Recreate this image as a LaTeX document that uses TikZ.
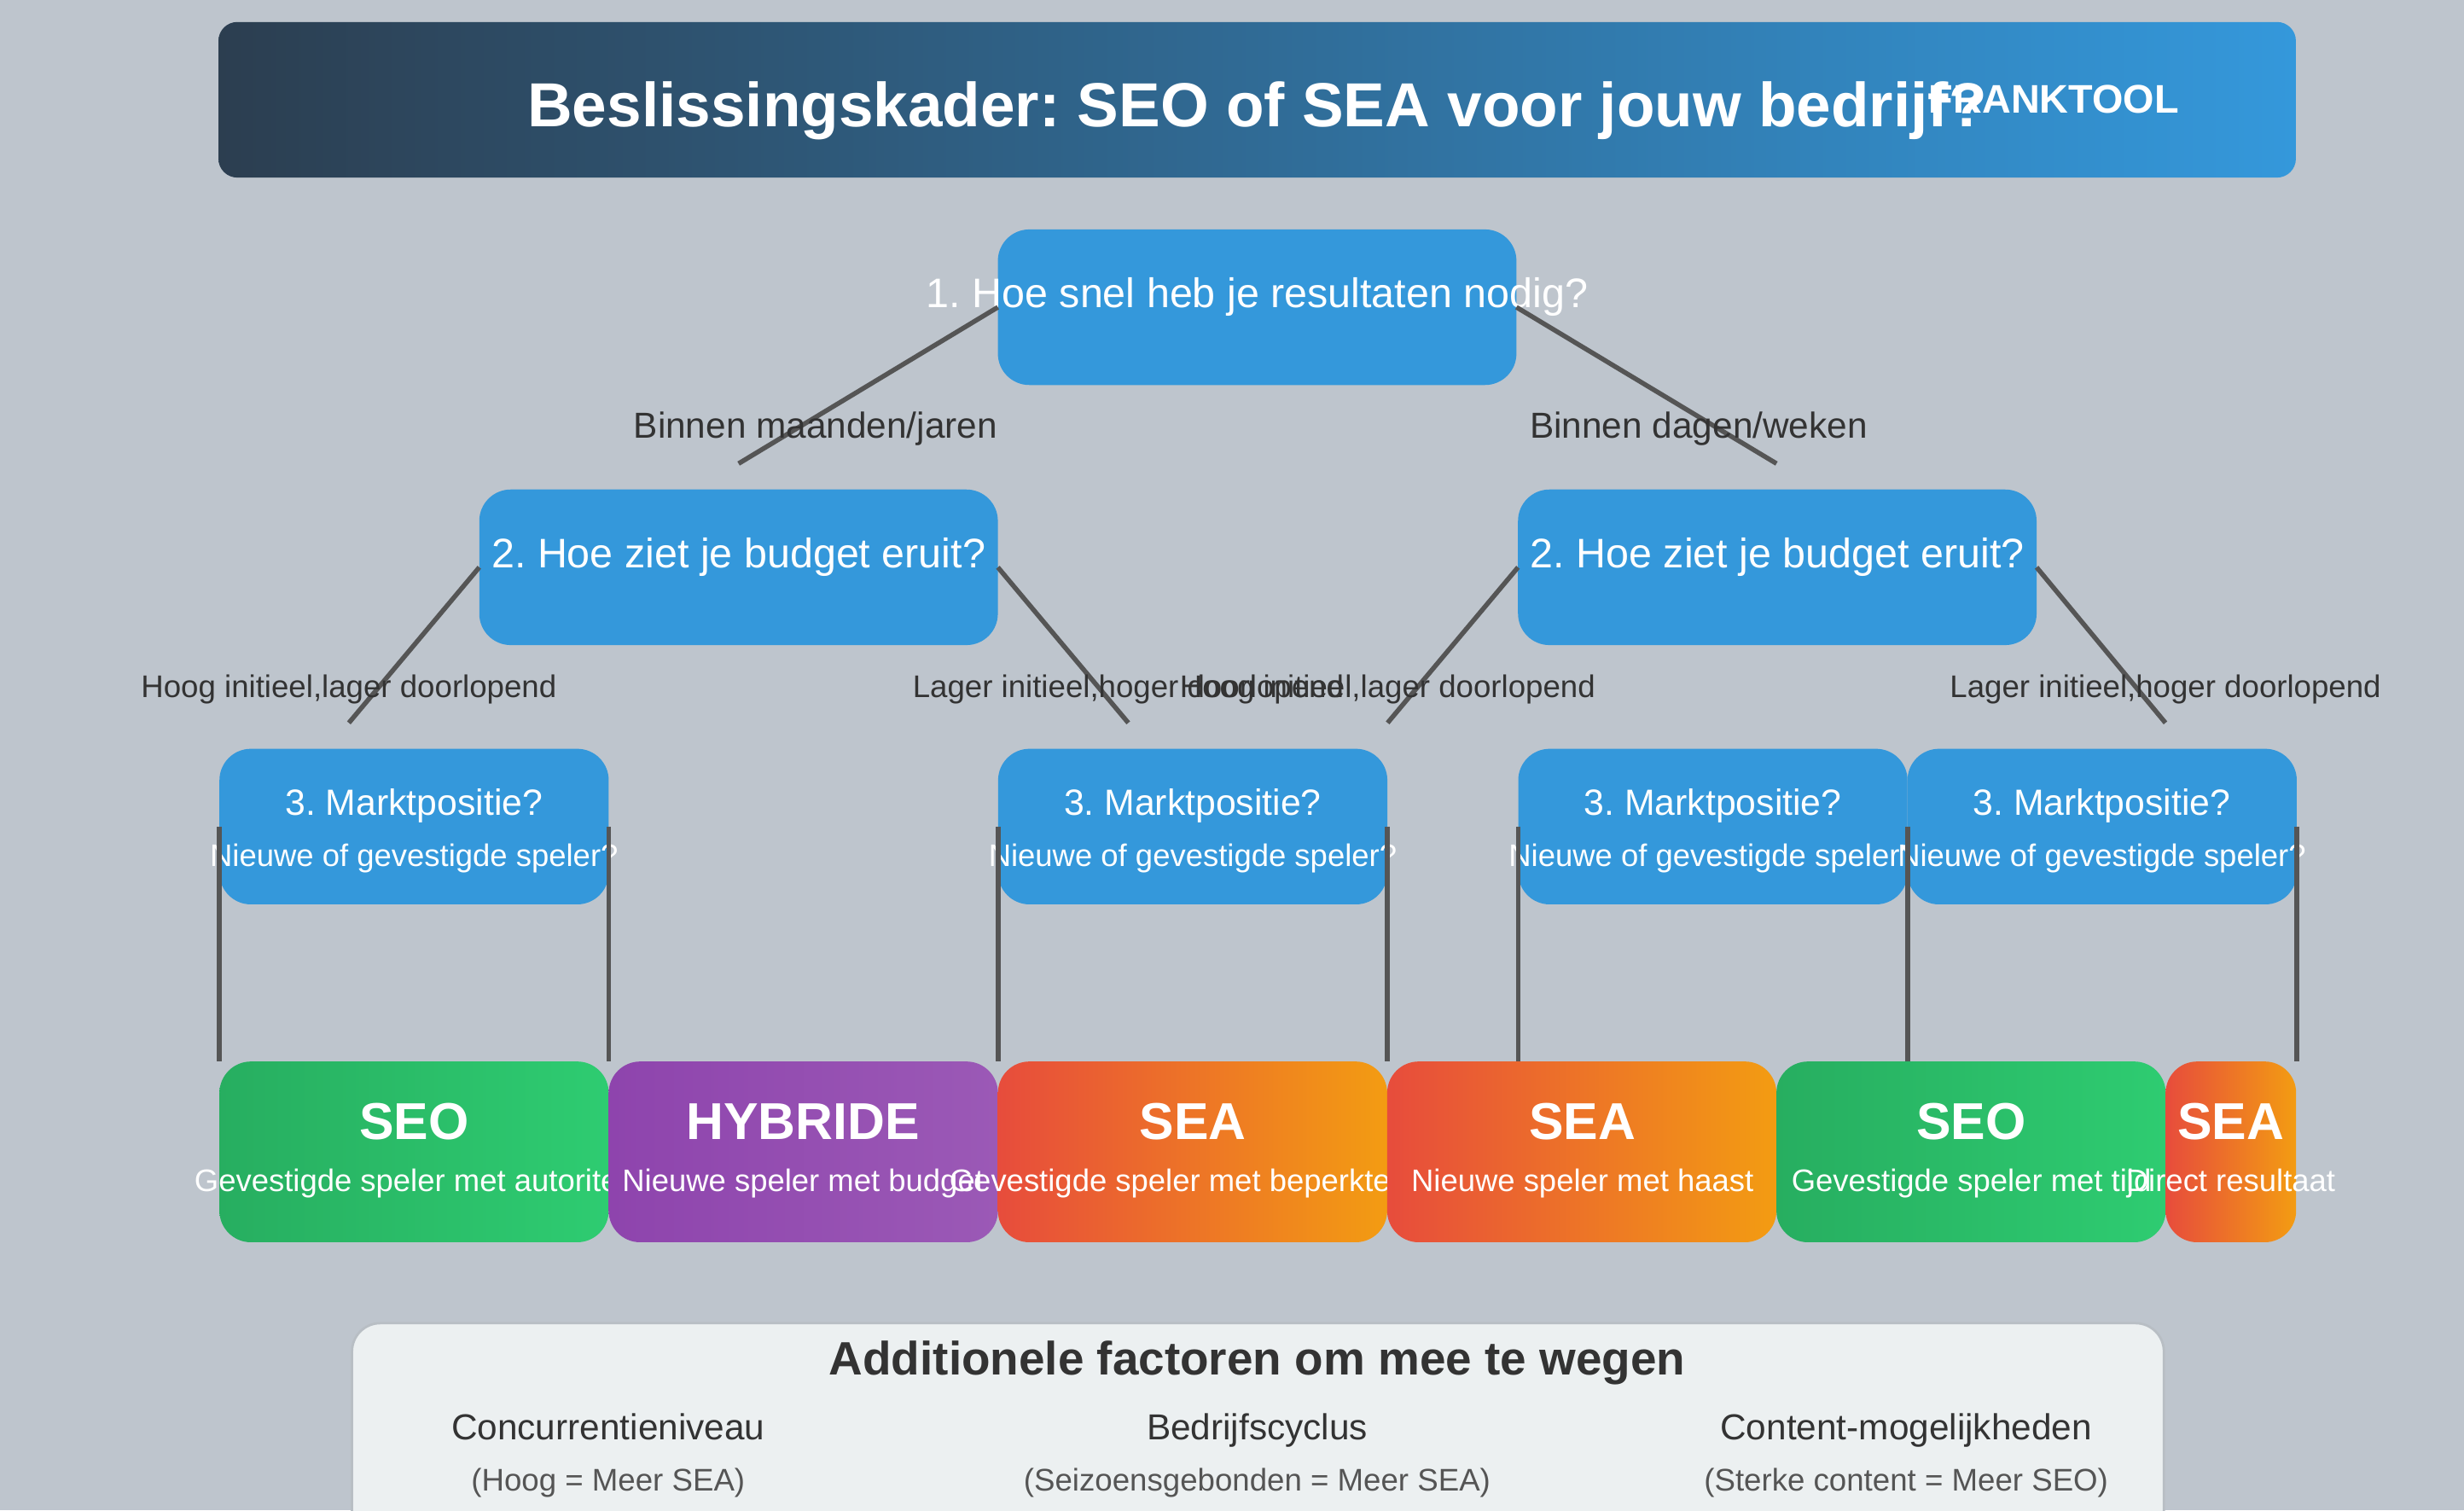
\documentclass[tikz,border=0pt]{standalone}
\usepackage{fontspec}
\setmainfont{Liberation Sans}
\usepackage{xcolor}
\usetikzlibrary{positioning}
\definecolor{bgc}{HTML}{BEC5CD}
\definecolor{navy}{HTML}{2C3E50}
\definecolor{qblue}{HTML}{3498DB}
\definecolor{seoa}{HTML}{27AE60}
\definecolor{seob}{HTML}{2ECC71}
\definecolor{hyba}{HTML}{8E44AD}
\definecolor{hybb}{HTML}{9B59B6}
\definecolor{seaa}{HTML}{E74C3C}
\definecolor{seab}{HTML}{F39C12}
\definecolor{panelc}{HTML}{ECF0F1}
\definecolor{edgec}{HTML}{B8BEC4}
\definecolor{linec}{HTML}{555555}
\definecolor{darkc}{HTML}{333333}
\newcommand{\fsz}[1]{\fontsize{#1}{#1}\selectfont}
\frenchspacing

\begin{document}
\begin{tikzpicture}[x=1pt,y=-1pt]
    \tikzstyle{blk}=[fill=qblue,rounded corners=20pt,outer sep=0pt,inner sep=0pt,minimum width=330pt,minimum height=99pt]
    \tikzstyle{qsm}=[blk,minimum width=247.7pt]
    \tikzstyle{res}=[rounded corners=20pt,outer sep=0pt,inner sep=0pt,minimum width=247.7pt,minimum height=115pt]
    \tikzstyle{seo}=[res,left color=seoa,right color=seob]
    \tikzstyle{hyb}=[res,left color=hyba,right color=hybb]
    \tikzstyle{sea}=[res,left color=seaa,right color=seab]
    \tikzstyle{txt}=[anchor=base,inner sep=0pt,text=white]
    \tikzstyle{qtxt}=[txt,font=\fsz{26.3}]
    \tikzstyle{mtxt}=[txt,font=\fsz{23.2}]
    \tikzstyle{stxt}=[txt,font=\fsz{19.8}]
    \tikzstyle{rtxt}=[txt,font=\fsz{33}\bfseries]
    \tikzstyle{lbl}=[anchor=base,inner sep=0pt,text=darkc,font=\fsz{23}]
    \tikzstyle{lblsm}=[lbl,font=\fsz{19.9}]
    \tikzstyle{lnk}=[draw=linec,line width=3pt]

    \clip[use as bounding box] (0,0) rectangle (1568,961);
    \fill[bgc] (0,0) rectangle (1568,961);

    % header
    \node[left color=navy,right color=qblue,rounded corners=12pt,outer sep=0pt,minimum width=1322pt,minimum height=99pt] (head) at (800,63.5) {};
    \node[txt,font=\fsz{39.6}\bfseries] (title) at (800,80.5) {Beslissingskader: SEO of SEA voor jouw bedrijf?};
    \node[txt,font=\fsz{25.4}\bfseries] (brand) at (1307,72) {FRANKTOOL};

    % question boxes
    \node[blk] (qa) at (800,195.5) {};
    \node[qtxt] (qatxt) at (800,195.5) {1. Hoe snel heb je resultaten nodig?};
    \node[blk] (qbl) at (470,361) {};
    \node[qtxt] (qbltxt) at (470,361.5) {2. Hoe ziet je budget eruit?};
    \node[blk] (qbr) at (1131,361) {};
    \node[qtxt] (qbrtxt) at (1131,361.5) {2. Hoe ziet je budget eruit?};

    \node[qsm] (qca) at (263.5,526) {};
    \node[mtxt] (qcat) at (263.5,519) {3. Marktpositie?};
    \node[stxt] (qcas) at (263.5,551.5) {Nieuwe of gevestigde speler?};
    \node[qsm] (qcb) at (759,526) {};
    \node[mtxt] (qcbt) at (759,519) {3. Marktpositie?};
    \node[stxt] (qcbs) at (759,551.5) {Nieuwe of gevestigde speler?};
    \node[qsm] (qcc) at (1090,526) {};
    \node[mtxt] (qcct) at (1090,519) {3. Marktpositie?};
    \node[stxt] (qccs) at (1090,551.5) {Nieuwe of gevestigde speler?};
    \node[qsm,right=0pt of qcc] (qcd) {};
    \node[mtxt] (qcdt) at (1337.5,519) {3. Marktpositie?};
    \node[stxt] (qcds) at (1337.5,551.5) {Nieuwe of gevestigde speler?};

    % outcomes, each box hides what runs over from the one before
    \node[seo] (ra) at (263.5,733) {};
    \node[rtxt] (rat) at (263.5,725) {SEO};
    \node[stxt] (ras) at (263.5,758) {Gevestigde speler met autoriteit};
    \node[hyb,right=0pt of ra] (rb) {};
    \node[rtxt] (rbt) at (511,725) {HYBRIDE};
    \node[stxt] (rbs) at (511,758) {Nieuwe speler met budget};
    \node[sea,right=0pt of rb] (rc) {};
    \node[rtxt] (rct) at (759,725) {SEA};
    \node[stxt,anchor=base west] (rcs) at (604,758) {Gevestigde speler met beperkte};
    \node[sea,right=0pt of rc] (rd) {};
    \node[rtxt] (rdt) at (1007,725) {SEA};
    \node[stxt] (rds) at (1007,758) {Nieuwe speler met haast};
    \node[seo,right=0pt of rd] (re) {};
    \node[rtxt] (ret) at (1254.5,725) {SEO};
    \node[stxt] (res) at (1254.5,758) {Gevestigde speler met tijd};
    \node[sea,right=0pt of re,minimum width=83pt] (rf) {};
    \node[rtxt] (rft) at (1419.5,725) {SEA};
    \node[stxt] (rfs) at (1419.5,758) {Direct resultaat};

    % free ends of the first two levels
    \coordinate (enda) at (470,295);
    \coordinate (endb) at (1130.5,295);
    \coordinate (endc) at (222,460);
    \coordinate (endd) at (718,460);
    \coordinate (ende) at (883,460);
    \coordinate (endf) at (1378,460);

    \draw[lnk] (qa.west) -- (enda);
    \draw[lnk] (qa.east) -- (endb);
    \draw[lnk] (qbl.west) -- (endc);
    \draw[lnk] (qbl.east) -- (endd);
    \draw[lnk] (qbr.west) -- (ende);
    \draw[lnk] (qbr.east) -- (endf);
    \draw[lnk] (qca.west) -- (qca.west |- ra.north);
    \draw[lnk] (qca.east) -- (qca.east |- ra.north);
    \draw[lnk] (qcb.west) -- (qcb.west |- rc.north);
    \draw[lnk] (qcb.east) -- (qcb.east |- rc.north);
    \draw[lnk] (qcc.west) -- (qcc.west |- rd.north);
    \draw[lnk] (qcc.east) -- (qcc.east |- re.north);
    \draw[lnk] (qcd.east) -- (qcd.east |- rf.north);

    \node[lbl] (la) at (519,279) {Binnen maanden/jaren};
    \node[lbl] (lb) at (1081,279) {Binnen dagen/weken};
    \node[lblsm] (lc) at (222,444) {Hoog initieel,lager doorlopend};
    \node[lblsm] (ld) at (718,444) {Lager initieel,hoger doorlopend};
    \node[lblsm] (le) at (883,444) {Hoog initieel,lager doorlopend};
    \node[lblsm] (lf) at (1378,444) {Lager initieel,hoger doorlopend};

    % additional factors
    \node[fill=panelc,draw=edgec,line width=1.5pt,rounded corners=18pt,outer sep=0pt,anchor=north west,minimum width=1153pt,minimum height=160pt] (panel) at (224,842) {};
    \node[lbl,font=\fsz{29.8}\bfseries] (ptitle) at (800,875) {Additionele factoren om mee te wegen};
    \node[lbl] (fa) at (387,916) {Concurrentieniveau};
    \node[lbl] (fb) at (800,916) {Bedrijfscyclus};
    \node[lbl] (fc) at (1213,916) {Content-mogelijkheden};
    \node[lblsm,text=linec] (fas) at (387,948.5) {(Hoog = Meer SEA)};
    \node[lblsm,text=linec] (fbs) at (800,948.5) {(Seizoensgebonden = Meer SEA)};
    \node[lblsm,text=linec] (fcs) at (1213,948.5) {(Sterke content = Meer SEO)};
  \end{tikzpicture}
\end{document}
